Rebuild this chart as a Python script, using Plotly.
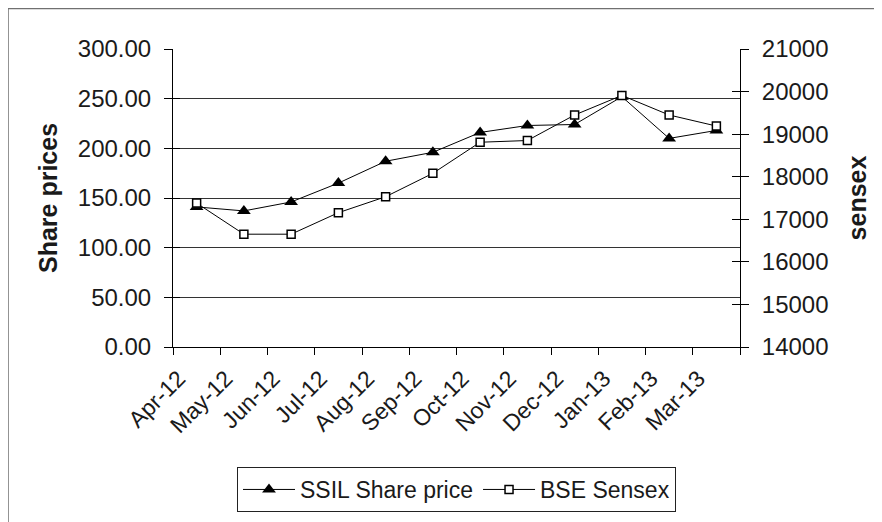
import plotly.graph_objects as go

months = ["Apr-12", "May-12", "Jun-12", "Jul-12", "Aug-12", "Sep-12",
          "Oct-12", "Nov-12", "Dec-12", "Jan-13", "Feb-13", "Mar-13"]
ssil_share_price = [141, 137, 146, 165, 187, 196, 216, 223, 224, 252, 210, 218]
bse_sensex = [17380, 16650, 16650, 17155, 17530, 18080, 18810, 18850, 19450, 19910, 19450, 19190]

left_ticks = [0, 50, 100, 150, 200, 250, 300]
right_ticks = [14000, 15000, 16000, 17000, 18000, 19000, 20000, 21000]

FONT = "Liberation Sans, Arial, sans-serif"
TXT = "#1a1a1a"

# page body has an 8px margin, so plot-area pixels are offset by -8
L, T, PW, PH = 165, 41, 567, 298
W, H = 882, 522

fig = go.Figure()
fig.add_trace(go.Scatter(
    x=months, y=ssil_share_price, name="SSIL Share price", mode="lines+markers",
    line=dict(color="black", width=1),
    marker=dict(symbol="triangle-up", size=12, color="black"),
    xaxis="x", yaxis="y"))
fig.add_trace(go.Scatter(
    x=months, y=bse_sensex, name="BSE Sensex", mode="lines+markers",
    line=dict(color="black", width=1),
    marker=dict(symbol="square", size=8, color="white", line=dict(color="black", width=1.5)),
    xaxis="x", yaxis="y2"))
# hidden copies bound to overlay axes that draw the inner half of the crossing y ticks
fig.add_trace(go.Scatter(x=months, y=ssil_share_price, mode="none", showlegend=False,
                         hoverinfo="skip", xaxis="x3", yaxis="y3"))
fig.add_trace(go.Scatter(x=months, y=bse_sensex, mode="none", showlegend=False,
                         hoverinfo="skip", xaxis="x3", yaxis="y4"))

xcommon = dict(type="category", categoryorder="array", categoryarray=months,
               range=[-0.5, len(months) - 0.5], tickson="boundaries",
               showgrid=False, zeroline=False)

fig.update_layout(
    width=W, height=H,
    margin=dict(l=L, r=W - L - PW, t=T, b=H - T - PH),
    paper_bgcolor="white", plot_bgcolor="white",
    font=dict(family=FONT, size=23, color=TXT),
    showlegend=True,
    legend=dict(orientation="h", x=0.5, xanchor="center", y=-(467 - 347) / PH, yanchor="top",
                bordercolor="#222", borderwidth=1, bgcolor="white",
                font=dict(family=FONT, size=23, color=TXT),
                itemwidth=52, tracegroupgap=0),
    xaxis=dict(**xcommon, showline=True, linecolor="black", linewidth=1,
               ticks="outside", ticklen=7, tickcolor="black", tickwidth=1,
               tickangle=-45, ticklabelshift=-18, ticklabelstandoff=8,
               tickfont=dict(family=FONT, size=23, color=TXT)),
    yaxis=dict(range=[0, 300], tickvals=left_ticks, tickformat=".2f",
               showgrid=True, gridcolor="#333333", gridwidth=1, zeroline=False,
               showline=True, linecolor="black", linewidth=1,
               ticks="outside", ticklen=8, tickcolor="black", tickwidth=1,
               ticklabelstandoff=8,
               tickfont=dict(family=FONT, size=24, color=TXT),
               title=dict(text="<b>Share prices</b>", standoff=13,
                          font=dict(family=FONT, size=25, color=TXT))),
    yaxis2=dict(range=[14000, 21000], tickvals=right_ticks, tickformat="d",
                overlaying="y", side="right",
                showgrid=False, zeroline=False,
                showline=True, linecolor="black", linewidth=1,
                ticks="outside", ticklen=8, tickcolor="black", tickwidth=1,
                ticklabelstandoff=8,
                tickfont=dict(family=FONT, size=24, color=TXT),
                title=dict(text="<b>sensex</b>", standoff=20,
                           font=dict(family=FONT, size=25, color=TXT))),
    xaxis3=dict(**xcommon, overlaying="x", anchor="y3", showline=False,
                ticks="", showticklabels=False),
    yaxis3=dict(range=[0, 300], tickvals=left_ticks, overlaying="y", anchor="x3",
                side="left", showgrid=False, zeroline=False, showline=False,
                ticks="inside", ticklen=7, tickcolor="black", tickwidth=1,
                showticklabels=False),
    yaxis4=dict(range=[14000, 21000], tickvals=right_ticks, overlaying="y", anchor="x3",
                side="right", showgrid=False, zeroline=False, showline=False,
                ticks="inside", ticklen=8, tickcolor="black", tickwidth=1,
                showticklabels=False),
    shapes=[dict(type="rect", xref="paper", yref="paper",
                 x0=-L / PW, x1=2.0, y0=-2.0, y1=1 + (T - 0.5) / PH,
                 line=dict(color="#707070", width=1.5), layer="below")],
)

fig.write_html("out.html")
